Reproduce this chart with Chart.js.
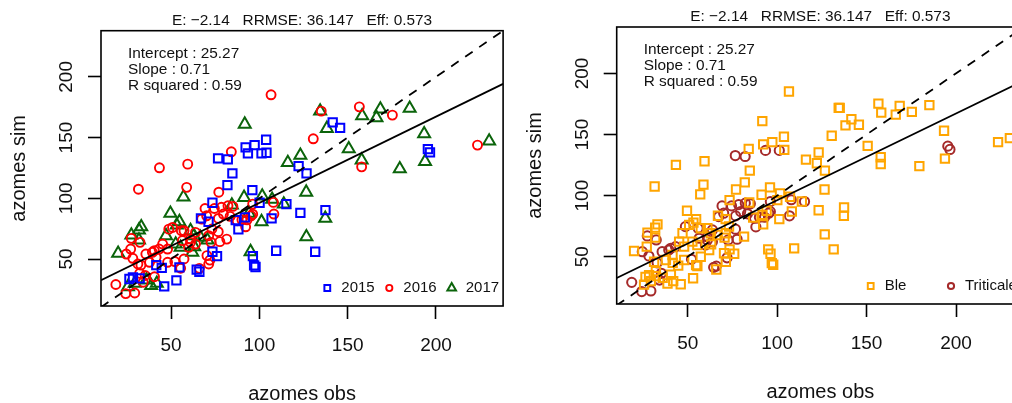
<!DOCTYPE html>
<html>
<head>
<meta charset="utf-8">
<script src="https://cdn.jsdelivr.net/npm/chart.js@4.4.1/dist/chart.umd.min.js"></script>
<style>
  html, body { margin: 0; padding: 0; background: #fff; overflow: hidden; }
  #wrap { position: relative; width: 1012px; height: 403px; overflow: hidden; }
  .panel { position: absolute; top: 0; height: 403px; }
  #left { left: 0; width: 512px; }
  #right { left: 512px; width: 520px; }
</style>
</head>
<body>
<div id="wrap">
  <div class="panel" id="left"><canvas id="yearChart" width="512" height="403"></canvas></div>
  <div class="panel" id="right"><canvas id="cropChart" width="520" height="403"></canvas></div>
</div>
<script>
// indicateurs affichés en tête et dans le cadre
const statE = -2.14, statRRMSE = 36.147, statEff = 0.573;
const intercept = 25.27, slope = 0.71, rSquared = 0.59;

// axes (mêmes bornes en x et en y)
const xMin = 10.3, xMax = 238, yMin = 11.3, yMax = 238;
const xTicks = [50, 100, 150, 200];
const yTicks = [50, 100, 150, 200];

const years = ['2015', '2016', '2017'];
const crops = ['Ble', 'Triticale'];

// 2015 : azote observé / simulé, culture (B = blé, T = triticale)
const obs2015 = [103.8, 97.3, 92.2, 93.5, 101.2, 104.0, 76.6, 82.1, 84.7, 81.9, 96.0, 141.5, 145.7, 195.4, 196.6,
  122.2, 126.7, 123.2, 137.4, 131.6, 115.3, 106.9, 109.5, 96.3, 97.0, 97.8, 88.1, 76.0, 73.4, 64.5, 66.0,
  73.4, 66.9, 71.2, 86.6, 91.8, 100.1, 26.4, 28.4, 41.6, 44.7, 54.7, 53.0, 46.1, 32.2];
const sim2015 = [148.2, 143.8, 141.9, 137.0, 137.0, 137.5, 132.8, 132.0, 120.5, 110.9, 106.7, 162.5, 158.0, 140.5, 137.8,
  126.5, 120.5, 88.0, 90.3, 56.0, 95.2, 83.5, 56.8, 52.4, 44.8, 43.4, 74.4, 52.4, 56.0, 41.3, 39.5,
  96.3, 83.5, 80.7, 82.0, 84.3, 96.3, 33.5, 34.9, 45.0, 42.7, 43.1, 32.4, 27.5, 34.1];
const crop2015 = ['B', 'B', 'B', 'T', 'T', 'B', 'T', 'T', 'B', 'B', 'B', 'B', 'B', 'T', 'T',
  'B', 'B', 'B', 'B', 'B', 'T', 'T', 'B', 'B', 'B', 'B', 'T', 'B', 'B', 'T', 'B',
  'B', 'B', 'B', 'B', 'B', 'B', 'B', 'B', 'B', 'B', 'B', 'B', 'B', 'B'];

const obs2016 = [106.6, 84.1, 43.4, 59.4, 31.5, 58.8, 77.0, 135.0, 156.6, 175.3, 130.5, 157.9, 223.5, 108.2, 92.2,
  66.0, 72.0, 18.7, 24.3, 29.4, 32.2, 24.6, 28.3, 32.9, 35.3, 34.2, 35.7, 39.4, 43.2, 48.7, 52.1, 55.8, 59.9,
  60.9, 67.3, 70.1, 69.2, 72.6, 76.7, 77.6, 74.5, 78.5, 82.2, 85.0, 87.4, 90.1, 93.0, 95.3, 96.2, 107.9, 96.2,
  27.4, 32.4,
  27.1, 31.2, 37.8, 41.5, 48.0, 55.4, 57.3, 70.3, 71.3, 50.8, 57.3, 71.3, 73.1, 81.5, 45.2, 48.0, 40.6,
  63.8, 76.8, 79.6, 83.4, 40.5, 61.0, 63.8, 56.4];
const sim2016 = [185.2, 138.3, 125.1, 128.1, 107.5, 109.0, 105.0, 171.8, 175.3, 168.5, 149.0, 125.9, 143.8, 87.0, 76.5,
  42.3, 49.1, 29.0, 21.5, 22.0, 38.2, 54.1, 50.6, 45.0, 36.4, 30.9, 54.1, 55.5, 58.2, 74.6, 47.9, 73.3, 59.6,
  66.4, 82.8, 85.6, 91.6, 63.7, 72.5, 64.3, 91.6, 92.6, 93.8, 93.3, 81.5, 82.3, 82.3, 85.6, 86.9, 96.6, 95.2,
  67.0, 63.7,
  58.2, 45.9, 47.3, 51.4, 47.3, 42.4, 50.0, 52.8, 45.9, 76.0, 73.3, 69.2, 74.7, 66.4, 62.3, 58.2, 35.4,
  71.9, 83.4, 87.0, 85.1, 56.9, 63.7, 62.3, 65.1];
const crop2016 = ['B', 'B', 'B', 'B', 'B', 'B', 'B', 'B', 'B', 'B', 'B', 'B', 'B', 'B', 'B',
  'T', 'T', 'T', 'T', 'T', 'B', 'T', 'T', 'T', 'T', 'T', 'T', 'T', 'T', 'T', 'T', 'T', 'T',
  'T', 'T', 'T', 'T', 'T', 'T', 'T', 'T', 'T', 'T', 'T', 'T', 'T', 'T', 'T', 'T', 'T', 'T',
  'T', 'T',
  'B', 'B', 'B', 'B', 'B', 'B', 'B', 'B', 'B', 'B', 'B', 'B', 'B', 'B', 'B', 'B', 'B',
  'T', 'T', 'T', 'T', 'T', 'T', 'T', 'T'];

const obs2017 = [91.7, 116.1, 134.4, 138.2, 158.2, 168.5, 166.3, 185.1, 123.2, 150.6, 193.3, 157.9, 179.5, 193.8, 230.1,
  126.5, 137.3, 126.6, 95.0, 101.2, 57.0, 49.6, 54.7, 33.1, 31.8, 27.5, 31.8, 20.0, 25.6, 29.4, 36.0, 41.9,
  91.3, 101.6, 107.2, 113.8, 84.4, 94.1,
  62.0, 61.0, 62.9, 66.6, 47.1, 52.6, 55.4, 38.7, 53.2, 70.6, 63.1];
const sim2017 = [161.0, 129.4, 171.8, 157.5, 167.9, 173.4, 166.3, 174.0, 135.3, 140.7, 153.1, 131.4, 124.2, 130.3, 147.1,
  105.0, 83.5, 68.3, 56.0, 80.7, 101.0, 87.6, 80.7, 76.5, 73.8, 69.7, 65.6, 54.7, 27.2, 30.0, 32.7, 30.0,
  100.7, 101.8, 99.1, 95.2, 94.4, 87.6,
  55.5, 73.3, 69.2, 67.8, 69.2, 62.3, 59.6, 28.1, 77.9, 65.6, 60.1];
const crop2017 = obs2017.map(() => 'B');

const yearTable = [
  { obs: obs2015, sim: sim2015, crop: crop2015 },
  { obs: obs2016, sim: sim2016, crop: crop2016 },
  { obs: obs2017, sim: sim2017, crop: crop2017 }
];

function points(tab, keep) {
  const out = [];
  tab.obs.forEach((o, i) => { if (!keep || keep(tab.crop[i])) out.push({ x: o, y: tab.sim[i] }); });
  return out;
}

const FONT = '"Liberation Sans", Arial, sans-serif';
const fmtNum = v => (v < 0 ? '\u2212' : '') + Math.abs(v);
const header = 'E: ' + fmtNum(statE) + '   RRMSE: ' + fmtNum(statRRMSE) + '   Eff: ' + fmtNum(statEff);
const statLines = ['Intercept : ' + intercept, 'Slope : ' + slope, 'R squared : ' + rSquared];

// styles des séries
const styleYear = [
  { pointStyle: 'rect', radius: 5.9, color: '#0000ff', lw: 2 },
  { pointStyle: 'circle', radius: 4.5, color: '#ff0000', lw: 1.9 },
  { pointStyle: 'triangle', radius: 6.9, color: '#0b640b', lw: 2 }
];
const styleCrop = [
  { pointStyle: 'rect', radius: 5.9, color: '#ffa500', lw: 2 },
  { pointStyle: 'circle', radius: 4.6, color: '#a52a2a', lw: 2 }
];

function scatterSet(label, data, st) {
  return {
    label, data, showLine: false,
    pointStyle: st.pointStyle, pointRadius: st.radius, pointBorderWidth: st.lw,
    pointBorderColor: st.color, pointBackgroundColor: 'rgba(0,0,0,0)'
  };
}

function refLines() {
  return [
    { label: 'reg', data: [{ x: xMin, y: intercept + slope * xMin }, { x: xMax, y: intercept + slope * xMax }],
      showLine: true, pointRadius: 0, borderColor: '#000', borderWidth: 1.8 },
    { label: '1:1', data: [{ x: xMin, y: xMin }, { x: xMax, y: xMax }],
      showLine: true, pointRadius: 0, borderColor: '#000', borderWidth: 1.8, borderDash: [9, 8] }
  ];
}

// cadre, graduations, titres et légende façon R
const cadreR = {
  id: 'cadreR',
  afterDatasetsDraw(chart, args, opts) {
    const { ctx, chartArea: a, scales: { x, y } } = chart;
    ctx.save();
    ctx.strokeStyle = '#000';
    ctx.lineWidth = 1.6;
    ctx.strokeRect(a.left, a.top, a.right - a.left, a.bottom - a.top);

    ctx.fillStyle = '#111';
    ctx.font = '19px ' + FONT;
    ctx.textAlign = 'center';
    ctx.textBaseline = 'alphabetic';
    xTicks.forEach(v => ctx.fillText(String(v), x.getPixelForValue(v), a.bottom + 45));
    yTicks.forEach(v => {
      ctx.save();
      ctx.translate(a.left - 29, y.getPixelForValue(v));
      ctx.rotate(-Math.PI / 2);
      ctx.fillText(String(v), 0, 0);
      ctx.restore();
    });

    ctx.font = '20px ' + FONT;
    ctx.fillText('azomes obs', (a.left + a.right) / 2, a.bottom + 94);
    ctx.save();
    ctx.translate(a.left - 76, (a.top + a.bottom) / 2);
    ctx.rotate(-Math.PI / 2);
    ctx.fillText('azomes sim', 0, 0);
    ctx.restore();

    ctx.font = '15.4px ' + FONT;
    ctx.textBaseline = 'middle';
    ctx.fillText(header, (a.left + a.right) / 2, a.top - 10);

    ctx.textAlign = 'left';
    statLines.forEach((s, i) => ctx.fillText(s, a.left + 27, a.top + 23 + i * 15.8));

    ctx.font = '15px ' + FONT;
    const ly = a.bottom - 18;
    opts.items.forEach(it => {
      const px = a.left + it.dx;
      ctx.strokeStyle = it.style.color;
      ctx.fillStyle = 'rgba(0,0,0,0)';
      ctx.lineWidth = it.style.lw;
      Chart.helpers.drawPoint(ctx, { pointStyle: it.style.pointStyle, radius: it.r, borderWidth: it.style.lw, rotation: 0 }, px, ly);
      ctx.fillStyle = '#111';
      ctx.fillText(it.text, px + 14, ly);
    });
    ctx.restore();
  }
};

function axisOpts(min, max, ticks, isX, size) {
  return {
    type: 'linear', min, max,
    afterBuildTicks: s => { s.ticks = ticks.map(v => ({ value: v })); },
    afterFit: s => { if (isX) s.height = size; else s.width = size; },
    grid: { display: true, drawOnChartArea: false, drawTicks: true, tickLength: 13, tickColor: '#000', tickWidth: 1.6 },
    border: { display: false },
    ticks: { display: false }
  };
}

function makeChart(id, datasets, items, pad, ySize, xSize) {
  return new Chart(document.getElementById(id).getContext('2d'), {
    type: 'scatter',
    data: { datasets },
    options: {
      responsive: false,
      animation: false,
      events: [],
      layout: { padding: pad },
      scales: {
        x: axisOpts(xMin, xMax, xTicks, true, xSize),
        y: axisOpts(yMin, yMax, yTicks, false, ySize)
      },
      plugins: { legend: { display: false }, tooltip: { enabled: false }, cadreR: { items } }
    },
    plugins: [cadreR]
  });
}

// graphique par année
makeChart('yearChart',
  refLines().concat(yearTable.map((t, i) => scatterSet(years[i], points(t), styleYear[i]))),
  [
    { text: years[0], dx: 226.3, r: 4.1, style: styleYear[0] },
    { text: years[1], dx: 288.3, r: 3.1, style: styleYear[1] },
    { text: years[2], dx: 350.7, r: 5.0, style: styleYear[2] }
  ],
  { left: 0, top: 30.7, right: 6, bottom: 0 }, 101, 97);

// graphique par culture
const cropSets = ['B', 'T'].map((c, i) => {
  let data = [];
  yearTable.forEach(t => { data = data.concat(points(t, k => k === c)); });
  return scatterSet(crops[i], data, styleCrop[i]);
});
makeChart('cropChart',
  refLines().concat(cropSets),
  [
    { text: crops[0], dx: 254, r: 4.1, style: styleCrop[0] },
    { text: crops[1], dx: 334.3, r: 3.1, style: styleCrop[1] }
  ],
  { left: 0, top: 27, right: 8, bottom: 0 }, 104.7, 99);
</script>
</body>
</html>
